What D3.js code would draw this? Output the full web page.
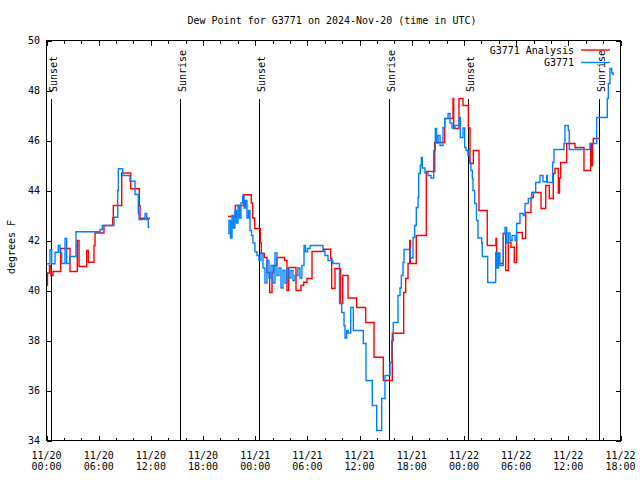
<!DOCTYPE html>
<html><head><meta charset="utf-8">
<script src="https://cdn.jsdelivr.net/npm/d3@7"></script>
<style>
body{margin:0;background:#fff}
text{font-family:"DejaVu Sans Mono","Liberation Mono",monospace;font-size:10px;fill:#000}
</style>
</head><body>
<svg id="c" width="640" height="480"></svg>
<script>
const title = "Dew Point for G3771 on 2024-Nov-20 (time in UTC)";
const yLabel = "degrees F";
const seriesNames = ["G3771 Analysis", "G3771"];
const seriesColors = ["#ff0000", "#0080ff"];
const xTickHours = [0, 6, 12, 18, 24, 30, 36, 42, 48, 54, 60, 66];
const xTickDates = ["11/20","11/20","11/20","11/20","11/21","11/21","11/21","11/21","11/22","11/22","11/22","11/22"];
const xTickTimes = ["00:00","06:00","12:00","18:00","00:00","06:00","12:00","18:00","00:00","06:00","12:00","18:00"];
const yTicks = [34, 36, 38, 40, 42, 44, 46, 48, 50];
const sunLabels = ["Sunset","Sunrise","Sunset","Sunrise","Sunset","Sunrise"];
const sunHours = [0.55, 15.35, 24.47, 39.42, 48.52, 63.56];

// G3771 Analysis (hours since 11/20 00:00 UTC, deg F); null = gap
const analysisHours = [0.00,0.11,0.34,0.52,0.75,1.63,2.70,3.54,3.74,4.62,4.81,5.46,5.58,6.61,7.61,7.68,8.65,9.68,10.67,10.75,11.90,
 16.0,
 20.87,21.71,22.67,23.55,23.71,23.94,24.58,24.70,25.04,25.35,25.66,25.93,26.12,26.50,27.39,27.65,27.85,28.69,29.26,29.57,29.95,30.53,31.87,
 32.68,32.79,33.17,33.83,34.06,34.67,35.67,36.70,37.66,38.73,39.76,41.07,41.30,41.57,41.76,41.83,42.52,43.67,44.64,45.79,46.74,46.82,47.43,47.89,
 48.50,48.70,49.08,49.73,50.68,51.68,51.76,52.52,52.80,53.10,53.41,53.79,54.06,54.71,55.10,55.71,55.97,56.86,57.40,57.81,58.27,58.47,58.85,58.99,
 59.12,59.81,60.77,61.80,62.57,62.72,62.80,62.87,63.64];
const analysisValues = [40.2,40.7,41.0,40.6,40.76,41.68,40.76,42.0,40.96,41.6,41.13,41.8,42.3,42.6,42.9,43.4,44.7,44.07,43.4,42.89,42.89,
 null,
 42.96,43.4,43.83,43.5,42.9,42.48,41.9,41.48,41.32,40.72,39.92,40.72,41.0,41.32,41.2,40.0,40.92,40.0,40.2,40.33,40.48,41.56,41.65,
 41.28,40.08,40.88,39.48,40.6,39.7,39.32,38.72,37.33,36.4,38.29,39.92,40.48,41.08,42.0,41.08,42.2,44.76,45.92,46.88,47.68,46.48,47.68,47.4,
 46.5,45.08,45.6,43.2,41.8,42.08,41.08,42.28,40.8,41.92,41.73,41.12,42.32,42.08,43.12,43.72,43.92,43.28,44.2,43.68,44.68,44.88,43.9,44.5,
 45.12,45.88,45.72,44.8,45.88,45.0,45.88,46.08,46.08];

// G3771 observations
const obsHours = [0.02,0.40,0.60,0.98,1.36,1.55,1.75,2.13,2.32,2.70,3.39,6.15,6.42,7.76,8.19,8.26,8.76,9.60,10.18,10.56,10.64,11.33,11.52,11.71,11.84,
 16.0,
 20.87,20.98,21.16,21.33,21.50,21.67,21.85,22.02,22.19,22.36,22.56,22.71,22.88,23.05,23.23,23.40,23.57,23.74,23.97,24.20,24.43,24.66,24.89,25.12,
 25.35,25.58,25.81,26.04,26.27,26.50,26.73,26.96,27.19,27.42,27.65,27.88,28.11,28.34,28.57,28.91,29.14,29.37,29.61,29.78,30.01,30.31,31.79,32.02,
 32.37,32.91,33.69,33.94,34.21,34.32,34.52,34.67,34.98,35.28,36.43,36.74,37.46,37.97,38.54,38.92,39.50,39.69,39.87,40.42,40.65,40.80,40.99,41.11,
 41.80,42.14,42.34,42.52,42.72,42.80,42.98,43.10,43.21,43.52,43.87,44.21,44.52,44.71,44.84,45.02,45.25,45.59,45.79,46.17,46.40,46.63,46.97,47.43,
 47.58,47.89,48.08,48.23,48.46,48.65,48.80,48.96,49.04,49.23,49.44,49.61,50.04,50.11,50.73,51.65,51.80,51.97,52.14,52.52,52.72,52.91,53.10,53.30,
 53.53,53.87,54.06,54.44,54.82,55.02,55.40,55.79,56.25,56.74,57.09,57.51,57.58,58.20,58.35,59.50,59.61,59.99,60.11,62.49,63.26,64.48,64.60,64.79,
 64.99,65.14,65.25];
const obsValues = [41.07,41.63,41.07,41.53,41.8,41.5,41.08,42.08,41.08,41.36,42.35,42.44,42.6,42.93,44.0,44.87,44.6,44.37,43.84,43.08,42.84,43.08,42.84,42.53,42.53,
 null,
 42.28,42.8,42.1,43.0,42.5,43.2,42.7,43.4,42.9,43.5,43.8,43.3,43.6,42.9,43.2,42.4,42.2,41.9,41.55,41.4,41.2,41.5,40.9,40.3,
 41.2,40.5,41.0,40.3,41.5,40.6,40.9,40.1,40.8,40.3,40.9,40.5,40.8,40.4,40.6,40.9,40.5,41.0,41.8,41.55,41.68,41.8,41.6,41.4,
 41.2,41.08,39.48,39.12,38.6,38.1,38.4,38.3,39.32,38.4,37.88,36.4,35.4,34.4,35.68,36.6,37.12,38.0,38.72,39.8,40.1,40.6,41.12,41.64,
 41.3,42.12,42.6,43.32,43.72,44.68,45.0,45.32,44.9,44.7,44.6,44.5,45.6,46.48,45.9,46.2,45.8,46.52,46.88,47.08,46.7,46.5,46.6,46.92,
 46.12,46.5,45.72,45.6,45.4,45.12,44.8,44.48,44.0,43.48,42.8,42.1,41.9,41.36,40.32,41.52,40.9,41.5,41.0,42.28,42.52,41.9,42.3,42.0,
 42.2,42.0,42.68,43.08,43.0,43.48,43.68,43.92,44.32,44.6,44.35,44.6,44.32,45.12,45.64,45.88,46.6,46.4,45.64,45.88,46.92,47.68,48.28,48.88,
 48.7,48.64,48.64];

const svg = d3.select("#c");
const L = 46.5, R = 620.5, T = 40.5, B = 440.5;
const x = d3.scaleLinear().domain([0, 66]).range([L, R]);
const y = d3.scaleLinear().domain([34, 50]).range([B, T]);

svg.append("rect").attr("width", 640).attr("height", 480).attr("fill", "#fff");
svg.append("defs").append("clipPath").attr("id", "clip")
  .append("rect").attr("x", L).attr("y", T).attr("width", R - L).attr("height", B - T);

// title & labels
svg.append("text").attr("x", 332).attr("y", 20).attr("text-anchor", "middle")
  .attr("dominant-baseline", "central").text(title);
svg.append("text").attr("transform", "translate(11,247) rotate(-90)")
  .attr("text-anchor", "middle").attr("dominant-baseline", "central").text(yLabel);

// axes via d3
const minorHours = d3.range(0, 67, 2).filter(h => h % 6 !== 0);
function styleAxis(g) { g.select(".domain").remove(); g.selectAll("line").attr("stroke", "#000").attr("shape-rendering", "crispEdges"); g.selectAll("text").remove(); }
svg.append("g").attr("transform", `translate(0,${B})`)
  .call(d3.axisTop(x).tickValues(xTickHours).tickSize(5)).call(styleAxis);
svg.append("g").attr("transform", `translate(0,${B})`)
  .call(d3.axisTop(x).tickValues(minorHours).tickSize(3)).call(styleAxis);
svg.append("g").attr("transform", `translate(0,${T})`)
  .call(d3.axisBottom(x).tickValues(xTickHours).tickSize(5)).call(styleAxis);
svg.append("g").attr("transform", `translate(0,${T})`)
  .call(d3.axisBottom(x).tickValues(minorHours).tickSize(3)).call(styleAxis);
svg.append("g").attr("transform", `translate(${L},0)`)
  .call(d3.axisRight(y).tickValues(yTicks).tickSize(5)).call(styleAxis);
svg.append("g").attr("transform", `translate(${R},0)`)
  .call(d3.axisLeft(y).tickValues(yTicks).tickSize(5)).call(styleAxis);

// tick labels
const xl = svg.append("g");
xTickHours.forEach((h, i) => {
  xl.append("text").attr("x", x(h)).attr("y", 455).attr("text-anchor", "middle").attr("dominant-baseline", "central").text(xTickDates[i]);
  xl.append("text").attr("x", x(h)).attr("y", 466).attr("text-anchor", "middle").attr("dominant-baseline", "central").text(xTickTimes[i]);
});
yTicks.forEach(v => {
  svg.append("text").attr("x", 40).attr("y", y(v)).attr("text-anchor", "end").attr("dominant-baseline", "central").text(v);
});

// sunrise / sunset
sunHours.forEach((h, i) => {
  const sx = Math.round(x(h)) + 0.5;
  svg.append("line").attr("x1", sx).attr("x2", sx).attr("y1", 99).attr("y2", B)
    .attr("stroke", "#000").attr("stroke-width", 1.2).attr("shape-rendering", "crispEdges");
  svg.append("text").attr("transform", `translate(${sx + 5},92) rotate(-90)`)
    .attr("text-anchor", "start").text(sunLabels[i]);
});

// series
const line = d3.line().defined(d => d[1] !== null).x(d => x(d[0])).y(d => y(d[1])).curve(d3.curveStepAfter);
const series = [
  analysisHours.map((h, i) => [h, analysisValues[i]]),
  obsHours.map((h, i) => [h, obsValues[i]])
];
const plot = svg.append("g").attr("clip-path", "url(#clip)");
series.forEach((s, i) => {
  plot.append("path").datum(s).attr("d", line).attr("fill", "none")
    .attr("stroke", seriesColors[i]).attr("stroke-width", 1.4).attr("stroke-linejoin", "miter");
});

// frame
svg.append("rect").attr("x", L).attr("y", T).attr("width", R - L).attr("height", B - T)
  .attr("fill", "none").attr("stroke", "#000").attr("shape-rendering", "crispEdges");

// legend
seriesNames.forEach((n, i) => {
  const ly = 50 + i * 12.5;
  svg.append("text").attr("x", 574).attr("y", ly).attr("text-anchor", "end").attr("dominant-baseline", "central").text(n);
  svg.append("line").attr("x1", 581).attr("x2", 610).attr("y1", ly).attr("y2", ly)
    .attr("stroke", seriesColors[i]).attr("stroke-width", 1.4);
});
</script>
</body></html>
